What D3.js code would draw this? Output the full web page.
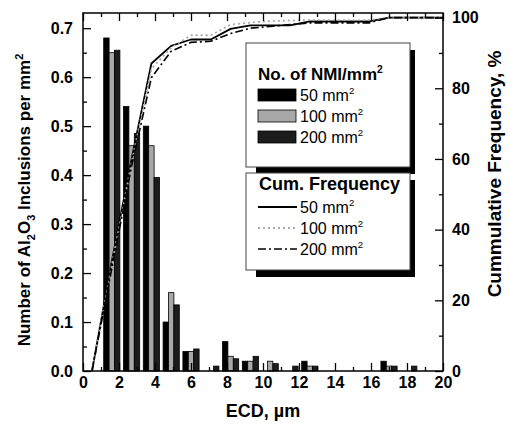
<!DOCTYPE html>
<html><head><meta charset="utf-8">
<script src="https://cdn.jsdelivr.net/npm/d3@7"></script>
<style>body{margin:0;background:#fff}svg{display:block}</style>
</head><body>
<svg id="c" width="510" height="428"></svg>
<script>
// ---- data ----
const binCenters = [1.6,2.7,3.8,4.9,6.0,7.1,8.2,9.3,10.4,11.5,12.6,13.7,14.8,15.9,17.0,18.1,19.2];
const seriesNames = ["50 mm", "100 mm", "200 mm"];
const count50  = [0.68,0.54,0.50,0.10,0.04,0,0.06,0.02,0,0,0.02,0,0,0,0.02,0,0];
const count100 = [0.65,0.46,0.46,0.16,0.04,0,0.03,0.02,0.02,0,0.01,0,0,0,0.01,0,0];
const count200 = [0.655,0.485,0.395,0.135,0.045,0.01,0.025,0.03,0.015,0.01,0.01,0,0,0,0.01,0.01,0];
const cumX   = [0.5,1.6,2.7,3.8,4.9,6.0,7.1,8.2,9.3,10.4,11.5,12.6,13.7,14.8,15.9,17.0,18.1,19.2,20];
const cum50  = [0,31,60,87,92,93.8,93.8,96.8,97.8,97.8,97.8,98.9,98.9,98.9,98.9,100,100,100,100];
const cum100 = [0,30,59,85.5,91.5,95,95,98,98.6,99,99.2,99.3,99.3,99.3,99.3,100,100,100,100];
const cum200 = [0,29,58,83,90.5,93,93.3,95.5,97,97.5,98,98.5,98.5,98.5,98.5,100,100,100,100];
const xTickLabels = [0,2,4,6,8,10,12,14,16,18,20];
const yLeftTickLabels = ["0.0","0.1","0.2","0.3","0.4","0.5","0.6","0.7"];
const yRightTickLabels = [0,20,40,60,80,100];

// ---- layout ----
const svg = d3.select("#c");
const L = 83, R = 443, T = 13, B = 371;
const FONT = "'Liberation Sans', Arial, Helvetica, sans-serif";
const x = d3.scaleLinear().domain([0,20]).range([L,R]);
const yL = d3.scaleLinear().domain([0,0.731]).range([B,T]);
const yR = d3.scaleLinear().domain([0,101.3]).range([B,T]);

const barColors = ["#000000","#a8a8a8","#1c1c1c"];
const counts = [count50, count100, count200];
const barW = 0.3;

// bars
counts.forEach((arr, si) => {
  svg.append("g").selectAll("rect")
    .data(binCenters.map((c,i)=>({c, v:arr[i]})).filter(d=>d.v>0))
    .join("rect")
    .attr("x", d => x(d.c + (si-1)*barW - barW/2))
    .attr("width", d => x(barW) - x(0))
    .attr("y", d => yL(d.v))
    .attr("height", d => yL(0) - yL(d.v))
    .attr("fill", barColors[si])
    .attr("stroke", "#000").attr("stroke-width", 0.8);
});

// cumulative lines
const cumSeries = [
  {v:cum50, stroke:"#000", dash:null, w:1.8},
  {v:cum100, stroke:"#aaaaaa", dash:"2,3", w:1.8},
  {v:cum200, stroke:"#000", dash:"8,3,2,3", w:1.6}
];
const line = d3.line();
cumSeries.forEach(s => {
  svg.append("path")
    .attr("d", line(cumX.map((cx,i)=>[x(cx), yR(s.v[i])])))
    .attr("fill","none").attr("stroke", s.stroke)
    .attr("stroke-width", s.w)
    .attr("stroke-dasharray", s.dash)
    .attr("stroke-linejoin","round");
});

// axes
function styleAxis(g){
  g.select(".domain").remove();
  g.selectAll("line").attr("stroke","#000").attr("stroke-width",1.3);
  g.selectAll("text").attr("font-family",FONT).attr("font-weight","bold").attr("font-size",16).attr("fill","#000");
}
const minorX = d3.range(1,20,2);
svg.append("g").attr("transform",`translate(0,${B})`)
  .call(d3.axisBottom(x).tickValues(xTickLabels).tickSize(-8).tickPadding(6).tickFormat(d3.format("d"))).call(styleAxis);
svg.append("g").attr("transform",`translate(0,${B})`)
  .call(d3.axisBottom(x).tickValues(minorX).tickSize(-4).tickFormat("")).call(styleAxis);
svg.append("g").attr("transform",`translate(0,${T})`)
  .call(d3.axisTop(x).tickValues(xTickLabels).tickSize(-8).tickFormat("")).call(styleAxis);
svg.append("g").attr("transform",`translate(0,${T})`)
  .call(d3.axisTop(x).tickValues(minorX).tickSize(-4).tickFormat("")).call(styleAxis);

const yMajor = yLeftTickLabels.map(Number);
svg.append("g").attr("transform",`translate(${L},0)`)
  .call(d3.axisLeft(yL).tickValues(yMajor).tickSize(-8).tickPadding(10).tickFormat((d,i)=>yLeftTickLabels[i])).call(styleAxis);
svg.append("g").attr("transform",`translate(${L},0)`)
  .call(d3.axisLeft(yL).tickValues(d3.range(0.05,0.73,0.1)).tickSize(-4).tickFormat("")).call(styleAxis);

svg.append("g").attr("transform",`translate(${R},0)`)
  .call(d3.axisRight(yR).tickValues(yRightTickLabels).tickSize(-8).tickPadding(9).tickFormat(d3.format("d"))).call(styleAxis);
svg.append("g").attr("transform",`translate(${R},0)`)
  .call(d3.axisRight(yR).tickValues([10,30,50,70,90]).tickSize(-4).tickFormat("")).call(styleAxis);

// frame
svg.append("rect").attr("x",L).attr("y",T).attr("width",R-L).attr("height",B-T)
  .attr("fill","none").attr("stroke","#000").attr("stroke-width",1.5);

// axis titles
svg.append("text").attr("x",(L+R)/2).attr("y",417).attr("text-anchor","middle")
  .attr("font-family",FONT).attr("font-weight","bold").attr("font-size",18).text("ECD, µm");

const lt = svg.append("text").attr("transform","translate(30,200) rotate(-90)").attr("text-anchor","middle")
  .attr("font-family",FONT).attr("font-weight","bold").attr("font-size",17);
lt.append("tspan").text("Number of Al");
lt.append("tspan").attr("dy",5).attr("font-size",11).text("2");
lt.append("tspan").attr("dy",-5).text("O");
lt.append("tspan").attr("dy",5).attr("font-size",11).text("3");
lt.append("tspan").attr("dy",-5).text(" Inclusions per mm");
lt.append("tspan").attr("dy",-7).attr("font-size",11).text("2");

svg.append("text").attr("transform","translate(501,174) rotate(-90)").attr("text-anchor","middle")
  .attr("font-family",FONT).attr("font-weight","bold").attr("font-size",19).text("Cummulative Frequency, %");

// legends
function box(bx,by,bw,bh){
  svg.append("rect").attr("x",bx+10).attr("y",by+7).attr("width",bw-5).attr("height",bh).attr("fill","#000");
  svg.append("rect").attr("x",bx).attr("y",by).attr("width",bw).attr("height",bh).attr("fill","#fff").attr("stroke","#444").attr("stroke-width",1);
}
function labelSup(g, tx, ty, base, size, bold){
  const t = svg.append("text").attr("x",tx).attr("y",ty).attr("font-family",FONT).attr("font-size",size)
    .attr("font-weight", bold ? "bold" : "normal");
  t.append("tspan").text(base);
  t.append("tspan").attr("dy",-7).attr("font-size",size*0.6).text("2");
  return t;
}
box(246,43,164,124);
labelSup(svg,258,80,"No. of NMI/mm",17,true);
seriesNames.forEach((n,i)=>{
  const ry = 95 + i*21;
  svg.append("rect").attr("x",258).attr("y",ry-6).attr("width",38).attr("height",12)
    .attr("fill",barColors[i]).attr("stroke","#000").attr("stroke-width",0.8);
  labelSup(svg,300,ry+6,n,16,false);
});
box(246,173,164,97);
svg.append("text").attr("x",259).attr("y",190).attr("font-family",FONT).attr("font-weight","bold")
  .attr("font-size",18).text("Cum. Frequency");
seriesNames.forEach((n,i)=>{
  const ry = 207 + i*21;
  svg.append("line").attr("x1",258).attr("x2",297).attr("y1",ry).attr("y2",ry)
    .attr("stroke",cumSeries[i].stroke).attr("stroke-width",cumSeries[i].w)
    .attr("stroke-dasharray",cumSeries[i].dash);
  labelSup(svg,300,ry+6,n,16,false);
});
</script>
</body></html>
